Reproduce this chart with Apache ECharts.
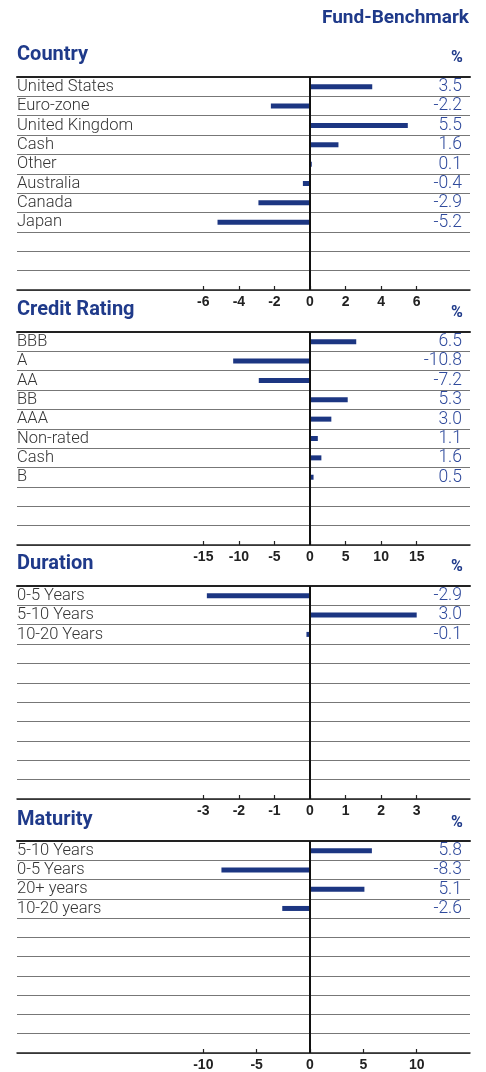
<!DOCTYPE html>
<html>
<head>
<meta charset="utf-8">
<script src="https://cdn.jsdelivr.net/npm/echarts@6/dist/echarts.min.js"></script>
<style>
  html, body { margin: 0; padding: 0; background: #fff; }
  #chart { width: 486px; height: 1072px; }
</style>
</head>
<body>
<div id="chart"></div>
<script>
// data
const countryNames = ['United States', 'Euro-zone', 'United Kingdom', 'Cash', 'Other', 'Australia', 'Canada', 'Japan'];
const countryValues = [3.5, -2.2, 5.5, 1.6, 0.1, -0.4, -2.9, -5.2];
const countryTicks = [-6, -4, -2, 0, 2, 4, 6];

const ratingNames = ['BBB', 'A', 'AA', 'BB', 'AAA', 'Non-rated', 'Cash', 'B'];
const ratingValues = [6.5, -10.8, -7.2, 5.3, 3.0, 1.1, 1.6, 0.5];
const ratingTicks = [-15, -10, -5, 0, 5, 10, 15];

const durationNames = ['0-5 Years', '5-10 Years', '10-20 Years'];
const durationValues = [-2.9, 3.0, -0.1];
const durationTicks = [-3, -2, -1, 0, 1, 2, 3];

const maturityNames = ['5-10 Years', '0-5 Years', '20+ years', '10-20 years'];
const maturityValues = [5.8, -8.3, 5.1, -2.6];
const maturityTicks = [-10, -5, 0, 5, 10];

const panelTitles = ['Country', 'Credit Rating', 'Duration', 'Maturity'];

// layout
const navy = '#1f3a8a';
const rowCount = 11;
const gridLeft = 17, gridRight = 16, gridHeight = 213;
const panelTops = [77, 332, 586, 841];
const titleYs = [40, 295, 549, 805];
// zero sits 293px from the left edge, 160px from the right; the tick range spans 106.7px each side
const leftSpan = 293, rightSpan = 160, tickSpan = 106.7;

const panels = [
  { names: countryNames, values: countryValues, ticks: countryTicks },
  { names: ratingNames, values: ratingValues, ticks: ratingTicks },
  { names: durationNames, values: durationValues, ticks: durationTicks },
  { names: maturityNames, values: maturityValues, ticks: maturityTicks }
];

function pad(list) {
  const out = list.slice();
  let k = 1;
  while (out.length < rowCount) {
    out.push(' '.repeat(k));
    k++;
  }
  return out;
}

const grid = [], xAxis = [], yAxis = [], series = [], title = [];

title.push({
  text: 'Fund-Benchmark', right: 12, top: 4,
  textStyle: { color: navy, fontSize: 19, fontWeight: 'bold', fontFamily: 'Roboto' }
});

panels.forEach(function (p, i) {
  const tMax = p.ticks[p.ticks.length - 1];
  const perPx = tMax / tickSpan;
  grid.push({ left: gridLeft, right: gridRight, top: panelTops[i], height: gridHeight });

  title.push({
    text: panelTitles[i], left: 12, top: titleYs[i],
    textStyle: { color: navy, fontSize: 20, fontWeight: 'bold', fontFamily: 'Roboto' }
  });
  title.push({
    text: '%', left: 446, top: titleYs[i] + 5,
    textStyle: { color: navy, fontSize: 16, fontWeight: 'bold', fontFamily: 'Roboto' }
  });

  // bottom value axis
  xAxis.push({
    type: 'value', gridIndex: i, position: 'bottom',
    min: -leftSpan * perPx, max: rightSpan * perPx,
    axisLine: { show: true, onZero: false, lineStyle: { color: '#222', width: 1.5 } },
    axisTick: { show: true, inside: true, length: 4, customValues: p.ticks, lineStyle: { color: '#222', width: 1.2 } },
    axisLabel: {
      customValues: p.ticks, margin: 5, color: '#222', fontSize: 14, fontWeight: 'bold',
      fontFamily: 'Liberation Sans'
    },
    splitLine: { show: false }
  });
  // top border line
  xAxis.push({
    type: 'value', gridIndex: i, position: 'top',
    min: -leftSpan * perPx, max: rightSpan * perPx,
    axisLine: { show: true, onZero: false, lineStyle: { color: '#222', width: 2 } },
    axisTick: { show: false }, axisLabel: { show: false }, splitLine: { show: false }
  });

  // category labels on the left
  yAxis.push({
    type: 'category', gridIndex: i, inverse: true, position: 'left',
    data: pad(p.names),
    axisLine: { show: false }, axisTick: { show: false },
    axisLabel: {
      interval: 0, inside: true, margin: 0, color: '#333', fontSize: 16.5, fontWeight: 300,
      fontFamily: 'Roboto', padding: [4, 0, 0, 0]
    },
    splitLine: { show: true, interval: 0, lineStyle: { color: '#777', width: 1 } }
  });
  // value labels on the right
  yAxis.push({
    type: 'category', gridIndex: i, inverse: true, position: 'right',
    data: pad(p.values.map(function (v) { return v.toFixed(1); })),
    axisLine: { show: false }, axisTick: { show: false },
    axisLabel: {
      interval: 0, inside: true, margin: 8, color: '#2f4a9c', fontSize: 17.5, fontWeight: 300,
      fontFamily: 'Roboto', padding: [4, 0, 0, 0]
    },
    splitLine: { show: false }
  });

  series.push({
    type: 'bar', xAxisIndex: i * 2, yAxisIndex: i * 2,
    data: p.values, barWidth: 5,
    itemStyle: { color: '#1c3682' },
    silent: true,
    markLine: {
      silent: true, symbol: 'none', label: { show: false },
      lineStyle: { color: '#111', width: 2, type: 'solid' },
      data: [{ xAxis: 0 }]
    }
  });
});

const chart = echarts.init(document.getElementById('chart'), null, { renderer: 'canvas' });
chart.setOption({
  animation: false,
  backgroundColor: '#fff',
  title: title,
  grid: grid,
  xAxis: xAxis,
  yAxis: yAxis,
  series: series
});
</script>
</body>
</html>
